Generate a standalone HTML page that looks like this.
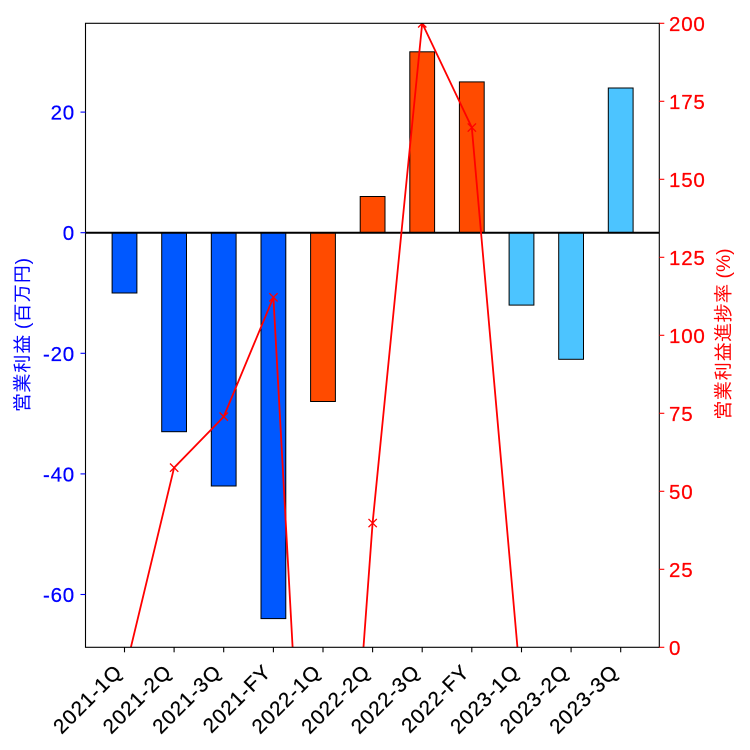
<!DOCTYPE html>
<html><head><meta charset="utf-8">
<style>
html,body{margin:0;padding:0;background:#fff;width:750px;height:750px;overflow:hidden;}
svg{display:block;}
text{font-family:"Liberation Sans","IPAGothic","Noto Sans CJK JP",sans-serif;}
</style></head>
<body>
<svg width="750" height="750" viewBox="0 0 750 750" xmlns="http://www.w3.org/2000/svg">
<defs><clipPath id="ax"><rect x="85.5" y="23.3" width="573.8" height="624"/></clipPath></defs>
<rect x="0" y="0" width="750" height="750" fill="#fff"/>
<g stroke="#000" stroke-width="1">
<rect x="112.1" y="232.7" width="24.8" height="60.3" fill="#0058ff"/>
<rect x="161.7" y="232.7" width="24.8" height="199" fill="#0058ff"/>
<rect x="211.3" y="232.7" width="24.8" height="253.3" fill="#0058ff"/>
<rect x="261.0" y="232.7" width="24.8" height="385.9" fill="#0058ff"/>
<rect x="310.6" y="232.7" width="24.8" height="168.8" fill="#ff4b00"/>
<rect x="360.2" y="196.5" width="24.8" height="36.2" fill="#ff4b00"/>
<rect x="409.8" y="51.8" width="24.8" height="180.9" fill="#ff4b00"/>
<rect x="459.4" y="81.9" width="24.8" height="150.8" fill="#ff4b00"/>
<rect x="509.1" y="232.7" width="24.8" height="72.4" fill="#4cc4ff"/>
<rect x="558.7" y="232.7" width="24.8" height="126.6" fill="#4cc4ff"/>
<rect x="608.3" y="88" width="24.8" height="144.7" fill="#4cc4ff"/>
</g>
<line x1="85.5" y1="232.7" x2="659.3" y2="232.7" stroke="#000" stroke-width="2"/>
<g clip-path="url(#ax)" stroke="#ff0000" stroke-width="1.8" fill="none">
<polyline points="124.5,673.8 174.1,467.7 223.7,416.7 273.4,297.3 295.5,700 359.6,700 372.6,523 422.2,23.3 471.8,127.5 521.5,693.5"/>
<g stroke-width="1.3">
<path d="M170,463.5l8.3,8.3M170,471.8l8.3,-8.3"/>
<path d="M219.6,412.5l8.3,8.3M219.6,420.8l8.3,-8.3"/>
<path d="M269.3,293.2l8.3,8.3M269.3,301.5l8.3,-8.3"/>
<path d="M368.5,518.9l8.3,8.3M368.5,527.2l8.3,-8.3"/>
<path d="M418.1,19.2l8.3,8.3M418.1,27.5l8.3,-8.3"/>
<path d="M467.7,123.4l8.3,8.3M467.7,131.7l8.3,-8.3"/>
</g>
</g>
<rect x="85.5" y="23.3" width="573.8" height="624" fill="none" stroke="#000" stroke-width="1.1"/>
<g stroke="#0000ff" stroke-width="1.1">
<line x1="80.5" y1="112.1" x2="85.5" y2="112.1"/>
<line x1="80.5" y1="232.7" x2="85.5" y2="232.7"/>
<line x1="80.5" y1="353.3" x2="85.5" y2="353.3"/>
<line x1="80.5" y1="473.9" x2="85.5" y2="473.9"/>
<line x1="80.5" y1="594.5" x2="85.5" y2="594.5"/>
</g>
<g fill="#0000ff" stroke="#0000ff" stroke-width="0.25" font-size="20.5" text-anchor="end" letter-spacing="0.8">
<text x="75" y="119.6">20</text>
<text x="75" y="240.2">0</text>
<text x="75" y="360.8">-20</text>
<text x="75" y="481.4">-40</text>
<text x="75" y="602">-60</text>
</g>
<g stroke="#ff0000" stroke-width="1.1">
<line x1="659.3" y1="647.3" x2="664.3" y2="647.3"/>
<line x1="659.3" y1="569.3" x2="664.3" y2="569.3"/>
<line x1="659.3" y1="491.3" x2="664.3" y2="491.3"/>
<line x1="659.3" y1="413.3" x2="664.3" y2="413.3"/>
<line x1="659.3" y1="335.3" x2="664.3" y2="335.3"/>
<line x1="659.3" y1="257.3" x2="664.3" y2="257.3"/>
<line x1="659.3" y1="179.3" x2="664.3" y2="179.3"/>
<line x1="659.3" y1="101.3" x2="664.3" y2="101.3"/>
<line x1="659.3" y1="23.3" x2="664.3" y2="23.3"/>
</g>
<g fill="#ff0000" stroke="#ff0000" stroke-width="0.25" font-size="20.5" letter-spacing="0.8">
<text x="669" y="654.8">0</text>
<text x="669" y="576.8">25</text>
<text x="669" y="498.8">50</text>
<text x="669" y="420.8">75</text>
<text x="669" y="342.8">100</text>
<text x="669" y="264.8">125</text>
<text x="669" y="186.8">150</text>
<text x="669" y="108.8">175</text>
<text x="669" y="30.8">200</text>
</g>
<g stroke="#000" stroke-width="1.1">
<line x1="124.5" y1="647.3" x2="124.5" y2="652.3"/>
<line x1="174.1" y1="647.3" x2="174.1" y2="652.3"/>
<line x1="223.7" y1="647.3" x2="223.7" y2="652.3"/>
<line x1="273.4" y1="647.3" x2="273.4" y2="652.3"/>
<line x1="323.0" y1="647.3" x2="323.0" y2="652.3"/>
<line x1="372.6" y1="647.3" x2="372.6" y2="652.3"/>
<line x1="422.2" y1="647.3" x2="422.2" y2="652.3"/>
<line x1="471.8" y1="647.3" x2="471.8" y2="652.3"/>
<line x1="521.5" y1="647.3" x2="521.5" y2="652.3"/>
<line x1="571.1" y1="647.3" x2="571.1" y2="652.3"/>
<line x1="620.7" y1="647.3" x2="620.7" y2="652.3"/>
</g>
<g fill="#000" stroke="#000" stroke-width="0.25" font-size="20.5" text-anchor="end" letter-spacing="1.1">
<text transform="translate(123.5,673) rotate(-45)">2021-1Q</text>
<text transform="translate(173.1,673) rotate(-45)">2021-2Q</text>
<text transform="translate(222.7,673) rotate(-45)">2021-3Q</text>
<text transform="translate(272.4,673) rotate(-45)">2021-FY</text>
<text transform="translate(322.0,673) rotate(-45)">2022-1Q</text>
<text transform="translate(371.6,673) rotate(-45)">2022-2Q</text>
<text transform="translate(421.2,673) rotate(-45)">2022-3Q</text>
<text transform="translate(470.8,673) rotate(-45)">2022-FY</text>
<text transform="translate(520.5,673) rotate(-45)">2023-1Q</text>
<text transform="translate(570.1,673) rotate(-45)">2023-2Q</text>
<text transform="translate(619.7,673) rotate(-45)">2023-3Q</text>
</g>
<text transform="translate(29,335) rotate(-90)" fill="#0000ff" font-size="19.4" text-anchor="middle">営業利益 (百万円)</text>
<text transform="translate(730,334) rotate(-90)" fill="#ff0000" font-size="19.4" text-anchor="middle">営業利益進捗率 (%)</text>
</svg>
</body></html>
